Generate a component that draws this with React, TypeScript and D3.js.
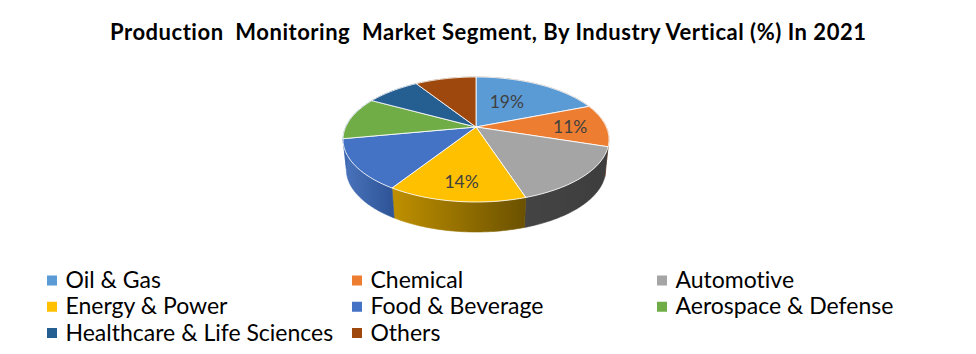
import React from "react";
import * as d3 from "d3";

const categories = ["Oil & Gas", "Chemical", "Automotive", "Energy & Power", "Food & Beverage", "Aerospace & Defense", "Healthcare & Life Sciences", "Others"];
const shares = [19, 11, 15, 14, 13, 11, 8, 9];
const shownLabels = ["19%", "11%", "", "14%", "", "", "", ""];
const colors = ["#5b9bd5", "#ed7d31", "#a5a5a5", "#ffc000", "#4472c4", "#70ad47", "#255e91", "#9e480e"];
const wallFrom = ["#8c5a35", "#c4662a", "#444444", "#bf9000", "#4a74bd", "#3f69b3", "#1f4e79", "#763508"];
const wallTo = ["#8c5a35", "#b55e27", "#3d3d3d", "#6b5100", "#2f5597", "#3f69b3", "#1f4e79", "#763508"];

const W = 976, H = 354;
const CX = 476, CY = 127, R = 130.3, HH = 60, K = 0.2, DEPTH = 30;

// Perspective projection of a circle's point: the pie's tilt makes the near half larger.
function project(angle: number, radius = 1, drop = 0): [number, number] {
  const u = Math.sin(angle) * radius;
  const v = -Math.cos(angle) * radius;
  const d = 1 - K * v;
  const shrink = drop ? 0.975 : 1;
  return [CX + (R * shrink * u) / d, CY + (HH * v) / d + drop];
}

const arcs = d3.pie<number>().sort(null).value((d) => d)(shares);
const line = d3.line();

function samples(a0: number, a1: number) {
  const n = Math.max(2, Math.ceil((a1 - a0) / 0.02));
  return d3.range(n + 1).map((i) => a0 + ((a1 - a0) * i) / n);
}
function topPath(a0: number, a1: number) {
  return line([project(0, 0), ...samples(a0, a1).map((a) => project(a))]) + "Z";
}
function wallPath(a0: number, a1: number) {
  const s = samples(a0, a1);
  return line([...s.map((a) => project(a)), ...s.slice().reverse().map((a) => project(a, 1, DEPTH))]) + "Z";
}

const labelNudge: [number, number][] = [[-18, 8], [-3, 1], [0, 0], [0, 3], [0, 0], [0, 0], [0, 0], [0, 0]];
const legendColumns = d3.scalePoint<number>().domain([0, 1, 2]).range([47, 657]);
const legendRows = d3.scalePoint<number>().domain([0, 1, 2]).range([280.5, 333]);
const FONT = "Lato, 'Open Sans', sans-serif";

export default function App() {
  return (
    <svg width={W} height={H} viewBox={`0 0 ${W} ${H}`} style={{ position: "absolute", left: 0, top: 0, background: "#fff" }}>
      <defs>
        {arcs.map((a, i) => {
          const xs = samples(a.startAngle, a.endAngle).map((t) => project(t)[0]);
          return (
            <linearGradient key={i} id={`wall${i}`} gradientUnits="userSpaceOnUse" x1={d3.min(xs)!} x2={d3.max(xs)!} y1={0} y2={0}>
              <stop offset="0" stopColor={wallFrom[i]} />
              <stop offset="1" stopColor={wallTo[i]} />
            </linearGradient>
          );
        })}
      </defs>
      <text x={110} y={39.5} textLength={756} lengthAdjust="spacing" fontFamily={FONT} fontWeight={700} fontSize={22} fill="#000"
        style={{ whiteSpace: "pre", fontVariantLigatures: "none" }}>
        {"Production  Monitoring  Market Segment, By Industry Vertical (%) In 2021"}
      </text>
      {arcs.map((a, i) => (
        <path key={i} d={wallPath(a.startAngle, a.endAngle)} fill={`url(#wall${i})`} stroke={`url(#wall${i})`} strokeWidth={0.6} />
      ))}
      {arcs.map((a, i) => (
        <path key={i} d={topPath(a.startAngle, a.endAngle)} fill={colors[i]} stroke="#fff" strokeOpacity={0.85} strokeWidth={1} strokeLinejoin="round" />
      ))}
      {arcs.map((a, i) => {
        if (!shownLabels[i]) return null;
        const [x, y] = project((a.startAngle + a.endAngle) / 2, 0.75);
        return (
          <text key={i} x={x + labelNudge[i][0]} y={y + labelNudge[i][1] + 6} textAnchor="middle" fontFamily={FONT} fontSize={17.5} fill="#404040">
            {shownLabels[i]}
          </text>
        );
      })}
      {categories.map((c, i) => {
        const col = i % 3, row = Math.floor(i / 3);
        const x = legendColumns(col)!, y = legendRows(row)!;
        return (
          <g key={c}>
            <rect x={x} y={y - 5} width={10} height={10} fill={colors[i]} />
            <text x={x + 18.5} y={y + 7.5} fontFamily={FONT} fontSize={23} fill="#000" style={{ fontVariantLigatures: "none" }}>{c}</text>
          </g>
        );
      })}
    </svg>
  );
}
